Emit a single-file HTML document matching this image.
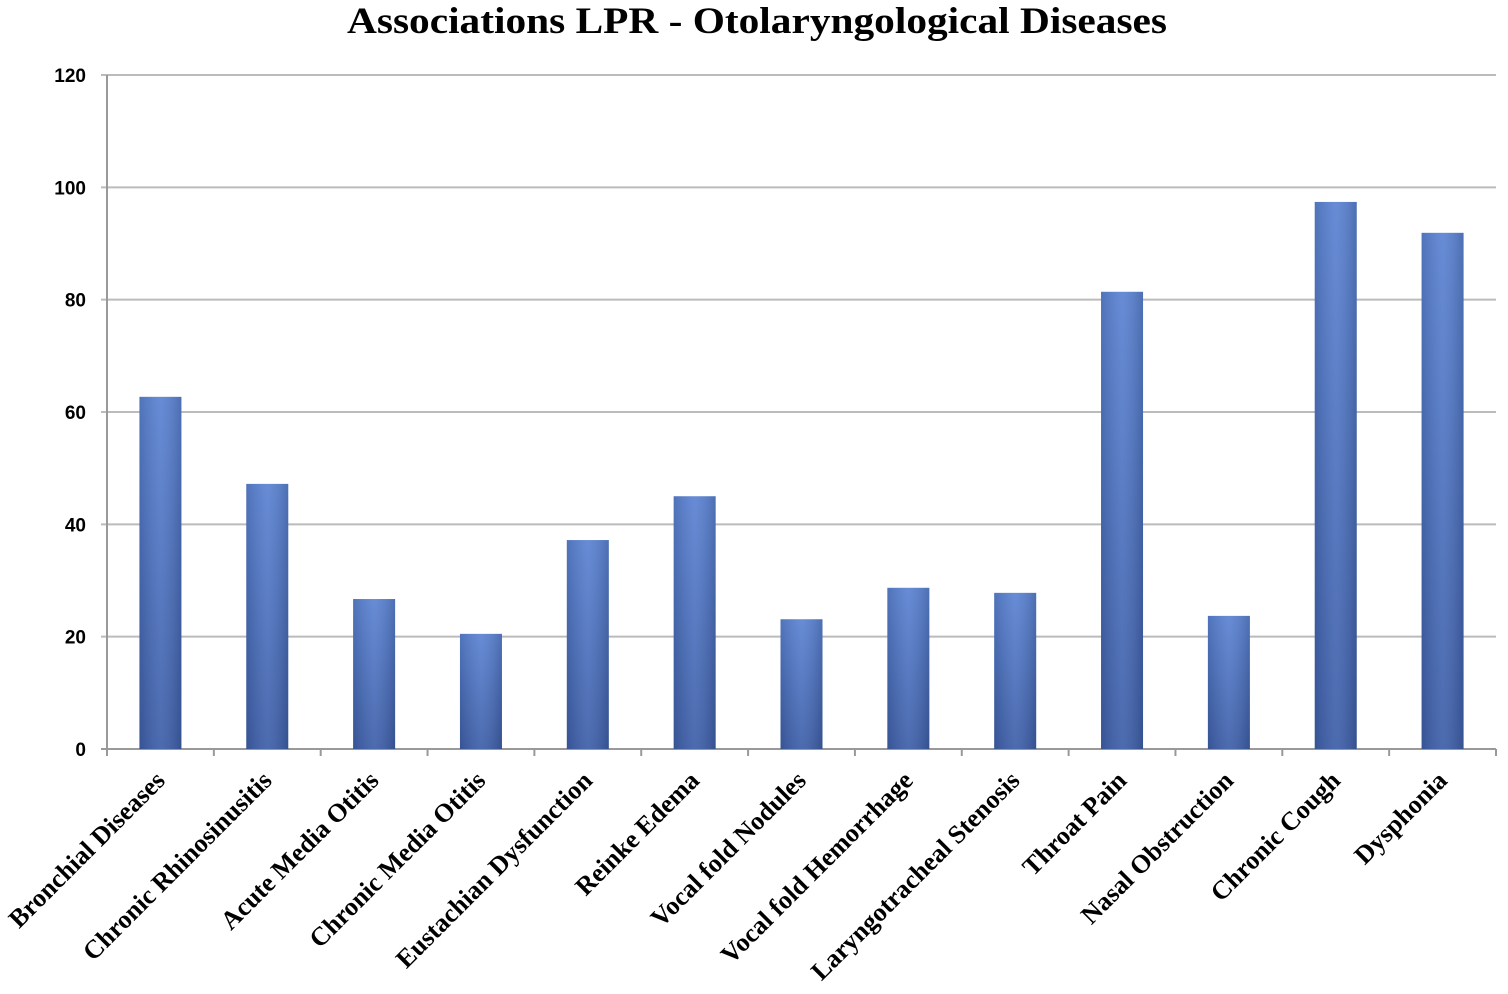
<!DOCTYPE html>
<html><head><meta charset="utf-8"><style>
body{margin:0;background:#fff;}
svg text{font-family:"Liberation Serif",serif;}
</style></head><body>
<svg id="chart" width="1508" height="989">
<defs><linearGradient id="bg" x1="0" x2="0" y1="0" y2="1"><stop offset="0" stop-color="#5a82d2"/><stop offset="1" stop-color="#3d5ea8"/></linearGradient>
<linearGradient id="bh" x1="0" x2="1" y1="0" y2="0"><stop offset="0" stop-color="#000" stop-opacity="0.12"/><stop offset="0.5" stop-color="#fff" stop-opacity="0.08"/><stop offset="1" stop-color="#000" stop-opacity="0.15"/></linearGradient></defs>
<text x="757" y="33" text-anchor="middle" font-size="37" font-weight="bold" textLength="820" lengthAdjust="spacingAndGlyphs">Associations LPR - Otolaryngological Diseases</text>
<g id="grid"></g><g id="bars"></g><g id="labels"></g>
</svg>
<script>
const categories=["Bronchial Diseases","Chronic Rhinosinusitis","Acute Media Otitis","Chronic Media Otitis","Eustachian Dysfunction","Reinke Edema","Vocal fold Nodules","Vocal fold Hemorrhage","Laryngotracheal Stenosis","Throat Pain","Nasal Obstruction","Chronic Cough","Dysphonia"];
const values=[62.7,47.2,26.7,20.5,37.2,45,23.1,28.7,27.8,81.4,23.7,97.4,91.9];
const yTicks=[0,20,40,60,80,100,120];
const NS="http://www.w3.org/2000/svg";
const x0=107,x1=1496,y0=749,yTop=75,yMax=120;
const band=(x1-x0)/categories.length;
const y=v=>y0-(v/yMax)*(y0-yTop);
const xc=i=>x0+band*(i+0.5);
function mk(t,a,p){const e=document.createElementNS(NS,t);for(const k in a)e.setAttribute(k,a[k]);p.appendChild(e);return e;}
const grid=document.getElementById('grid'),bars=document.getElementById('bars'),labels=document.getElementById('labels');
yTicks.forEach(t=>{
 const l=mk('line',{x1:x0-6,x2:x1,y1:y(t),y2:y(t),stroke:t===0?'#999':'#bbb','stroke-width':2},grid);
 
 
 const tx=mk('text',{x:86,y:y(t)+7,'text-anchor':'end','font-size':19,'font-weight':'bold',style:'font-family:"Liberation Sans",sans-serif'},grid);
 tx.textContent=t;
 
 
});
const ax=mk('line',{x1:x0,x2:x0,y1:yTop,y2:y0+6,stroke:'#999','stroke-width':2},grid);


for(let i=0;i<=categories.length;i++){mk('line',{x1:x0+band*i,x2:x0+band*i,y1:y0,y2:y0+7,stroke:'#999','stroke-width':2},grid);}
categories.forEach((c,i)=>{
 const bw=42,cx=xc(i);
 const g=mk('g',{},bars);
 
 
 mk('rect',{x:cx-bw/2,y:y(values[i]),width:bw,height:y0-y(values[i]),fill:'url(#bg)'},g);
 mk('rect',{x:cx-bw/2,y:y(values[i]),width:bw,height:y0-y(values[i]),fill:'url(#bh)'},g);
 const t=mk('text',{x:cx+6,y:782,'text-anchor':'end','font-size':26,'font-weight':'bold',transform:`rotate(-45 ${cx+6} 782)`},labels);
 t.textContent=c;
 
 
});
</script>
</body></html>
